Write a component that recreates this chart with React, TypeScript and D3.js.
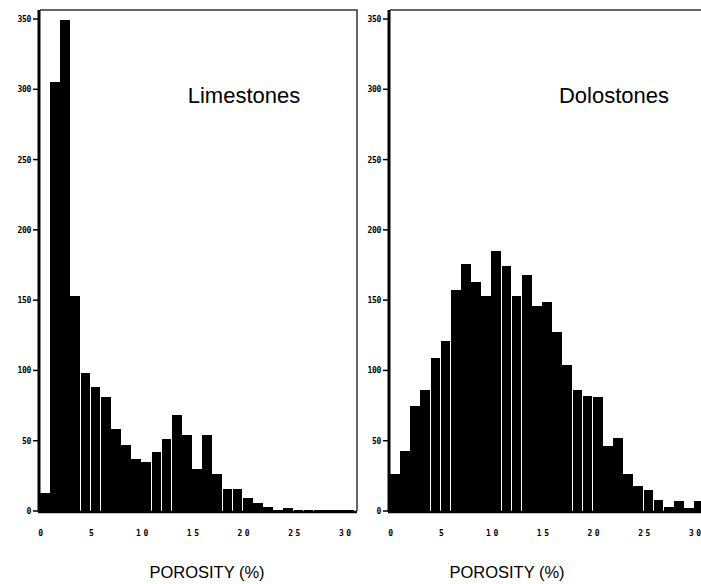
import React from "react";
import * as d3 from "d3";

// counts per 1% porosity bin
const limestoneCounts = [13, 305, 349, 153, 98, 88, 81, 58, 47, 37, 35, 42, 51, 68, 54, 30, 54, 26, 16, 16, 9, 6, 3, 0.5, 2, 0.5, 0.5, 0.5, 0.5, 0.5, 0.5];
const dolostoneCounts = [26, 43, 75, 86, 109, 121, 157, 176, 163, 153, 185, 174, 153, 168, 146, 149, 127, 104, 86, 82, 81, 46, 52, 26, 18, 15, 8, 3, 7, 2, 7];
const yTicks = [0, 50, 100, 150, 200, 250, 300, 350];
const xTicks = [0, 5, 10, 15, 20, 25, 30];
const panelTitles = ["Limestones", "Dolostones"];
const xAxisTitle = "POROSITY (%)";

const W = 701;
const H = 584;

const y = d3.scaleLinear().domain([0, 350]).range([511, 19]);

function Panel({ counts, title, left, titleX, axisTitleX }) {
  const x = d3.scaleLinear().domain([0, 31.25]).range([left, left + 317]);
  const top = 10;
  const base = y(0);
  return (
    <g>
      {/* frame: top + right */}
      <path
        d={`M${left},${top}H${x(31.25)}V${base}`}
        fill="none"
        stroke="#333"
        strokeWidth={1.5}
      />
      {counts.map((c, i) => (
        <rect
          key={i}
          x={x(i)}
          y={y(c)}
          width={x(i + 1) - x(i) - 0.45}
          height={base - y(c)}
          fill="#000"
          shapeRendering="crispEdges"
        />
      ))}
      {/* axes */}
      <line x1={left - 1} x2={left - 1} y1={top} y2={base + 1} stroke="#000" strokeWidth={3} />
      <line x1={left - 2} x2={x(31.25)} y1={base + 1} y2={base + 1} stroke="#000" strokeWidth={2.5} />
      {yTicks.map((t) => (
        <g key={t}>
          <line x1={left - 7} x2={left - 2} y1={y(t)} y2={y(t)} stroke="#000" strokeWidth={1.5} />
          <text
            x={left - 9}
            y={y(t) + 3}
            textAnchor="end"
            fontFamily="DejaVu Sans Mono"
            fontWeight="bold"
            fontSize={8}
            letterSpacing={-0.3}
          >
            {t}
          </text>
        </g>
      ))}
      {xTicks.map((t) => (
        <text
          key={t}
          x={x(t) + 2}
          y={536}
          textAnchor="middle"
          fontFamily="DejaVu Sans Mono"
          fontWeight="bold"
          fontSize={8}
          letterSpacing={2.5}
        >
          {t}
        </text>
      ))}
      <text x={titleX} y={103} textAnchor="middle" fontFamily="Liberation Sans, Arial" fontSize={22}>
        {title}
      </text>
      <text x={axisTitleX} y={578} textAnchor="middle" fontFamily="Liberation Sans, Arial" fontSize={16.5}>
        {xAxisTitle}
      </text>
    </g>
  );
}

export default function App() {
  return (
    <svg
      width={W}
      height={H}
      style={{ position: "absolute", left: 0, top: 0, background: "#fff" }}
    >
      <Panel counts={limestoneCounts} title={panelTitles[0]} left={40} titleX={244} axisTitleX={207} />
      <Panel counts={dolostoneCounts} title={panelTitles[1]} left={390} titleX={614} axisTitleX={507} />
    </svg>
  );
}
